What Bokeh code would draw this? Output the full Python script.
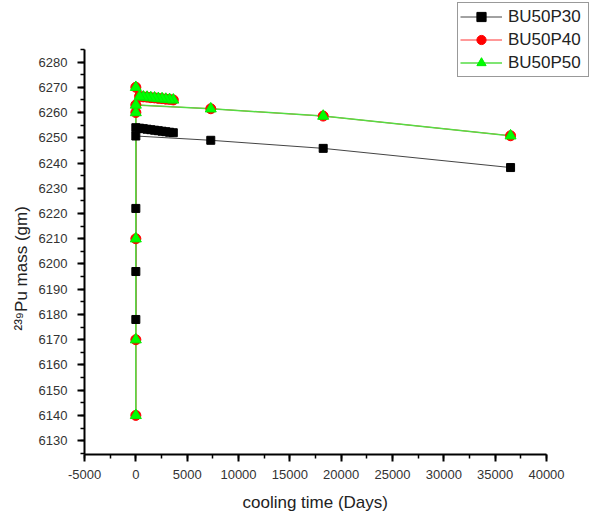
import numpy as np
from bokeh.plotting import figure
from bokeh.models import (Range1d, FixedTicker, Legend, LegendItem,
                          ColumnDataSource, Title, LinearAxis)
from bokeh.embed import file_html
from bokeh.resources import INLINE

# ---- data ----
series_names = ["BU50P30", "BU50P40", "BU50P50"]

time_p30 = [3650, 3285, 2920, 2555, 2190, 1825, 1460, 1095, 730, 365,
            0, 0, 0, 0, 0, 7300, 18250, 36500]
mass_p30 = [6252.0, 6252.2, 6252.4, 6252.6, 6252.8, 6253.0, 6253.2, 6253.4, 6253.6, 6253.8,
            6254.0, 6178.0, 6197.0, 6222.0, 6250.7, 6249.0, 6245.8, 6238.2]

time_p40 = [3650, 3285, 2920, 2555, 2190, 1825, 1460, 1095, 730, 365,
            0, 0, 0, 0, 0, 0, 7300, 18250, 36500]
mass_p40 = [6265.0, 6265.2, 6265.3, 6265.5, 6265.6, 6265.8, 6265.9, 6266.1, 6266.2, 6266.4,
            6270.0, 6140.0, 6170.0, 6210.0, 6260.0, 6263.0, 6261.5, 6258.6, 6250.8]

time_p50 = [3650, 3285, 2920, 2555, 2190, 1825, 1460, 1095, 730, 365,
            0, 0, 0, 0, 0, 0, 7300, 18250, 36500]
mass_p50 = [6265.0, 6265.2, 6265.3, 6265.5, 6265.6, 6265.8, 6265.9, 6266.1, 6266.2, 6266.4,
            6270.0, 6140.0, 6170.0, 6210.0, 6260.0, 6263.0, 6261.5, 6258.6, 6250.8]

x_ticks = [-5000, 0, 5000, 10000, 15000, 20000, 25000, 30000, 35000, 40000]
y_ticks = [6130, 6140, 6150, 6160, 6170, 6180, 6190, 6200, 6210, 6220, 6230,
           6240, 6250, 6260, 6270, 6280]
x_axis_span = (-5000, 40000)
y_axis_span = (6124.5, 6285)
x_label = "cooling time (Days)"
y_label = "\u00b2\u00b3\u2079Pu mass (gm)"

FONT = "Liberation Sans"

# frame extends to the top-right so the legend (which sits outside the axes) is not clipped;
# the axes themselves are bounded to the spans above
p = figure(width=594, height=512, output_backend="svg", toolbar_location=None,
           x_range=Range1d(-5000, 44286), y_range=Range1d(6124.5, 6303.6),
           min_border_left=84, min_border_right=4, min_border_top=2,
           min_border_bottom=58)
p.outline_line_color = None
p.xgrid.grid_line_color = None
p.ygrid.grid_line_color = None
p.background_fill_color = "white"
p.border_fill_color = "white"

p.xaxis.ticker = FixedTicker(ticks=x_ticks,
                             minor_ticks=list(np.arange(-5000, 40001, 2500)))
p.yaxis.ticker = FixedTicker(ticks=y_ticks,
                             minor_ticks=list(np.arange(6125, 6286, 5)))
p.xaxis.bounds = x_axis_span
p.yaxis.bounds = y_axis_span
p.xaxis.major_label_overrides = {-5000: "-5000"}

for ax in (p.xaxis[0], p.yaxis[0]):
    ax.axis_line_width = 2
    ax.axis_line_color = "black"
    ax.major_tick_line_width = 2
    ax.minor_tick_line_width = 1.5
    ax.major_tick_line_color = "black"
    ax.minor_tick_line_color = "black"
    ax.major_tick_in = 0
    ax.major_tick_out = 7
    ax.minor_tick_in = 0
    ax.minor_tick_out = 4
    ax.major_label_text_font = FONT
    ax.major_label_text_font_size = "13px"
    ax.major_label_text_color = "#333333"
p.xaxis.major_label_standoff = 8
p.yaxis.major_label_standoff = 10

# invisible spacer between the x tick labels and the x title
spacer = LinearAxis(ticker=FixedTicker(ticks=[x_axis_span[0]]), axis_line_color=None,
                    major_tick_line_color=None, minor_tick_line_color=None,
                    major_tick_in=0, major_tick_out=10, minor_tick_in=0, minor_tick_out=0,
                    major_label_standoff=0, major_label_text_font_size="1px",
                    major_label_overrides={x_axis_span[0]: ""})
p.add_layout(spacer, "below")

# axis titles (placed as side titles so they can sit where the reference has them)
tx = Title(text=x_label, align="left", offset=158, standoff=0,
           vertical_align="middle", text_font=FONT, text_font_size="17px",
           text_font_style="normal", text_color="#222222")
ty = Title(text=y_label, align="left", offset=124, standoff=8,
           vertical_align="middle", text_font=FONT + ", Roboto", text_font_size="17px",
           text_font_style="normal", text_color="#222222")
p.add_layout(tx, "below")
p.add_layout(ty, "left")

src30 = ColumnDataSource(dict(t=time_p30, m=mass_p30))
src40 = ColumnDataSource(dict(t=time_p40, m=mass_p40))
src50 = ColumnDataSource(dict(t=time_p50, m=mass_p50))

l30 = p.line("t", "m", source=src30, line_color="#444444", line_width=1)
l40 = p.line("t", "m", source=src40, line_color="#ff3333", line_width=1)
l50 = p.line("t", "m", source=src50, line_color="#55dd44", line_width=1.6)

s40 = p.scatter("t", "m", source=src40, marker="circle", size=10,
                fill_color="#ff0000", line_color="#ff0000")
s50 = p.scatter("t", "m", source=src50, marker="triangle", size=11,
                fill_color="#00ff00", line_color="#00ee00")
s30 = p.scatter("t", "m", source=src30, marker="square", size=8,
                fill_color="black", line_color="black")

legend = Legend(items=[
    LegendItem(label=series_names[0], renderers=[l30, s30]),
    LegendItem(label=series_names[1], renderers=[l40, s40]),
    LegendItem(label=series_names[2], renderers=[l50, s50]),
], location=(373, 377))
legend.label_text_font = FONT
legend.label_text_font_size = "17px"
legend.label_text_color = "#222222"
legend.label_height = 23
legend.glyph_height = 23
legend.glyph_width = 42
legend.label_width = 78
legend.label_standoff = 6
legend.spacing = 0
legend.padding = 2
legend.margin = 0
legend.border_line_color = "#333333"
legend.border_line_width = 1
legend.background_fill_color = "white"
legend.background_fill_alpha = 1
p.add_layout(legend, "center")

open("out.html", "w").write(file_html(p, INLINE))
